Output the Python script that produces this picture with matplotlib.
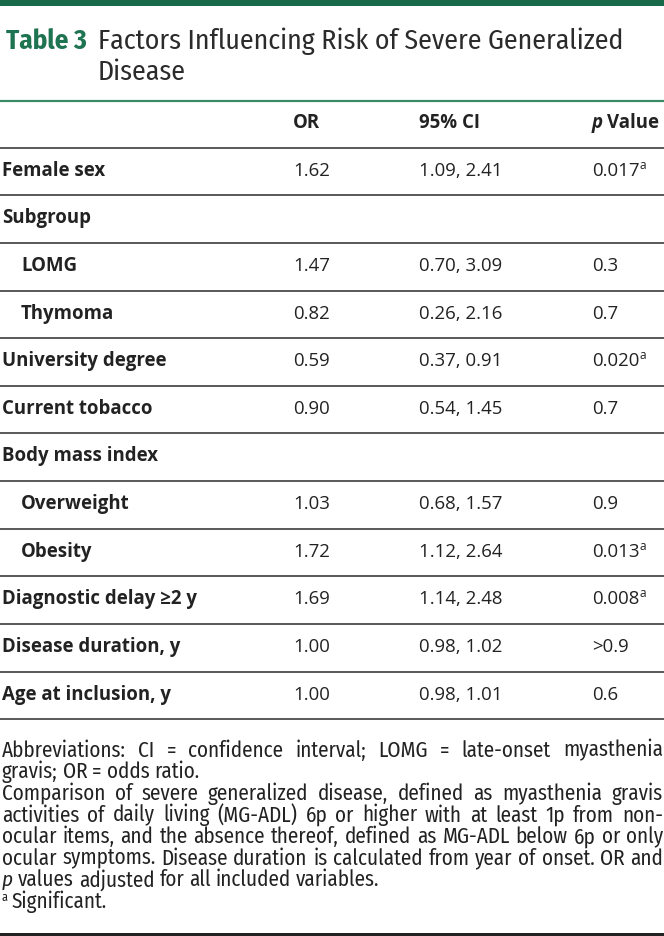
import matplotlib
matplotlib.use("Agg")
import matplotlib.pyplot as plt
from matplotlib.font_manager import FontProperties

# --- Table content ---
labels = ["Female sex", "Subgroup", "LOMG", "Thymoma", "University degree",
          "Current tobacco", "Body mass index", "Overweight", "Obesity",
          "Diagnostic delay \u22652 y", "Disease duration, y", "Age at inclusion, y"]
indent = [0, 0, 1, 1, 0, 0, 0, 1, 1, 0, 0, 0]
or_vals = ["1.62", "", "1.47", "0.82", "0.59", "0.90", "", "1.03", "1.72", "1.69", "1.00", "1.00"]
ci_vals = ["1.09, 2.41", "", "0.70, 3.09", "0.26, 2.16", "0.37, 0.91", "0.54, 1.45", "",
           "0.68, 1.57", "1.12, 2.64", "1.14, 2.48", "0.98, 1.02", "0.98, 1.01"]
p_vals = ["0.017", "", "0.3", "0.7", "0.020", "0.7", "", "0.9", "0.013", "0.008", ">0.9", "0.6"]
significant = [True, False, False, False, True, False, False, False, True, True, False, False]

title_label = "Table 3"
title_lines = ["Factors Influencing Risk of Severe Generalized", "Disease"]
headers = ["OR", "95% CI", "Value"]

# footnote lines: (text, justified); "*p" marks the italic p
foot_lines = [
    ("Abbreviations: CI = confidence interval; LOMG = late-onset myasthenia", True),
    ("gravis; OR = odds ratio.", False),
    ("Comparison of severe generalized disease, defined as myasthenia gravis", True),
    ("activities of daily living (MG-ADL) 6p or higher with at least 1p from non-", True),
    ("ocular items, and the absence thereof, defined as MG-ADL below 6p or only", True),
    ("ocular symptoms. Disease duration is calculated from year of onset. OR and", True),
    ("*p values adjusted for all included variables.", False),
]
foot_note_sig = "Significant."

# --- Styles ---
W, H = 664, 936
GREEN_DARK = "#17694a"
GREEN = "#1e7451"
GREEN_LINE = "#3a8a67"
TXT = "#222222"
RULE = "#4a4a4a"

def px(v):
    return v * 72 / 100.0

SEMI = ["Fira Sans Condensed", "Open Sans", "DejaVu Sans"]
body = px(18.7)
regular = FontProperties(family=["Open Sans", "DejaVu Sans"], size=body)
bold = FontProperties(family=["Open Sans", "DejaVu Sans"], weight="bold", size=body)
bold_it = FontProperties(family="Open Sans", style="italic", weight="bold", size=body)
sup = FontProperties(family=["Open Sans", "DejaVu Sans"], size=px(12))

fig = plt.figure(figsize=(W / 100, H / 100), dpi=100)
ax = fig.add_axes([0, 0, 1, 1])
ax.set_xlim(0, W)
ax.set_ylim(H, 0)
ax.axis("off")
renderer = fig.canvas.get_renderer()

def width(t):
    return t.get_window_extent(renderer).width

def fitted(fp, texts, target):
    # scale a font so the widest of the texts is `target` pixels wide
    probes = [ax.text(0, 0, s, fontproperties=fp) for s in texts]
    w = max(width(p) for p in probes)
    for p in probes:
        p.remove()
    out = fp.copy()
    out.set_size(fp.get_size() * target / w)
    return out

# top bar and title
title_b = fitted(FontProperties(family=SEMI, weight="bold", size=20), [title_label], 81)
title_r = fitted(FontProperties(family=SEMI, size=20), [title_lines[0]], 525)
ax.axhspan(0, 6, color=GREEN_DARK, lw=0)
ax.text(6, 49, title_label, fontproperties=title_b, color=GREEN, va="baseline")
ax.text(98, 49, title_lines[0], fontproperties=title_r, color="#2b2b2b", va="baseline")
ax.text(98, 80, title_lines[1], fontproperties=title_r, color="#2b2b2b", va="baseline")
ax.axhline(101, color=GREEN_LINE, lw=px(2.2))

# column header
col_x = [293, 419, 592]
ax.text(col_x[0], 128, headers[0], fontproperties=bold, color=TXT, va="baseline")
ax.text(col_x[1], 128, headers[1], fontproperties=bold, color=TXT, va="baseline")
tp = ax.text(col_x[2], 128, "p", fontproperties=bold_it, color=TXT, va="baseline")
ax.text(col_x[2] + width(tp) + 4, 128, headers[2], fontproperties=bold, color=TXT, va="baseline")

# body rows
top = 147.7
step = 47.63
for i in range(len(labels) + 1):
    ax.axhline(top + step * i, color=RULE, lw=px(1.8))

for i, lab in enumerate(labels):
    yb = top + step * i + 28
    ax.text(2 + 19 * indent[i], yb, lab, fontproperties=bold, color=TXT, va="baseline")
    ax.text(col_x[0], yb, or_vals[i], fontproperties=regular, color=TXT, va="baseline")
    ax.text(col_x[1], yb, ci_vals[i], fontproperties=regular, color=TXT, va="baseline")
    t = ax.text(col_x[2], yb, p_vals[i], fontproperties=regular, color=TXT, va="baseline")
    if significant[i]:
        ax.text(col_x[2] + width(t) + 0.5, yb - 7, "a", fontproperties=sup, color=TXT, va="baseline")

# footnotes
X0, X1 = 2, 663
fy = 756.7
pitch = 21.6
foot = fitted(FontProperties(family=SEMI, size=14), [foot_lines[4][0], foot_lines[5][0]], 657)
foot_it = foot.copy()
foot_it.set_style("italic")
foot_sup = fitted(FontProperties(family=SEMI, size=9), ["a"], 6)

probe = ax.text(0, 0, "n n", fontproperties=foot)
probe2 = ax.text(0, 0, "nn", fontproperties=foot)
space = width(probe) - width(probe2)
probe.remove()
probe2.remove()

for k, (line, just) in enumerate(foot_lines):
    y = fy + pitch * k
    texts = []
    for w in line.split(" "):
        if w.startswith("*"):
            texts.append(ax.text(0, y, w[1:], fontproperties=foot_it, color=TXT, va="baseline"))
        else:
            texts.append(ax.text(0, y, w, fontproperties=foot, color=TXT, va="baseline"))
    ws = [width(t) for t in texts]
    gap = (X1 - X0 - sum(ws)) / (len(ws) - 1) if just else space
    x = X0
    for t, w in zip(texts, ws):
        t.set_x(x)
        x += w + gap

y = fy + pitch * len(foot_lines)
ax.text(X0, y - 7, "a", fontproperties=foot_sup, color=TXT, va="baseline")
ax.text(12, y, foot_note_sig, fontproperties=foot, color=TXT, va="baseline")

ax.axhspan(932.5, 936, color="#222222", lw=0)

fig.savefig("out.png", dpi=100)
